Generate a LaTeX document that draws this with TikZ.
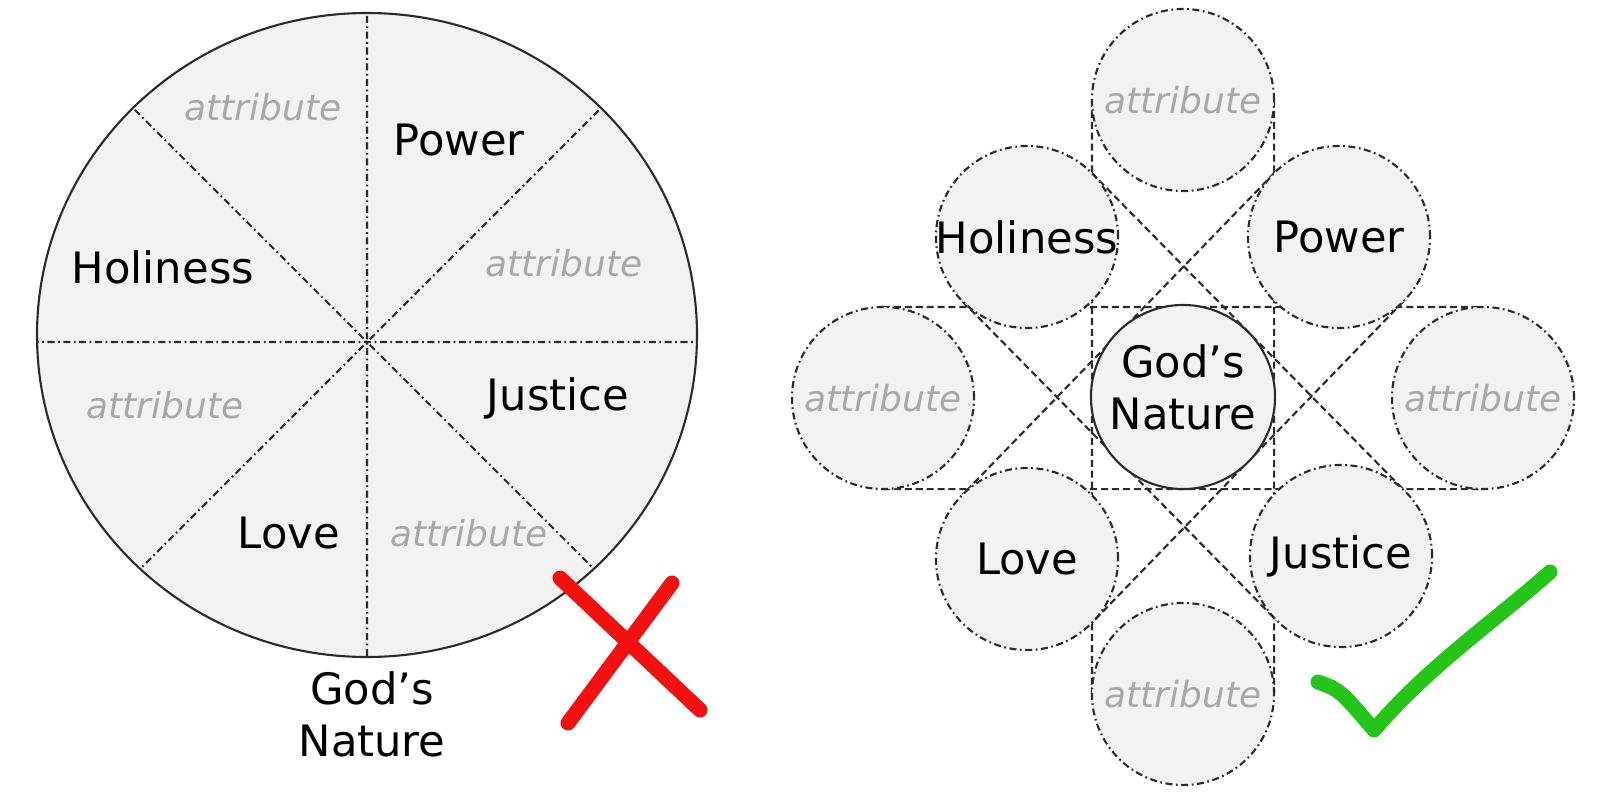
\documentclass[tikz,border=0pt]{standalone}
\usepackage{fontspec}
\setmainfont{DejaVu Sans}
\usetikzlibrary{backgrounds}
\definecolor{piefill}{HTML}{F2F2F2}
\definecolor{rimgray}{HTML}{2B2B2B}
\definecolor{attrgray}{HTML}{A8A8A8}
\definecolor{crossred}{HTML}{F21010}
\definecolor{tickgreen}{HTML}{24C418}
\begin{document}
\begin{tikzpicture}[x=0.01cm,y=-0.01cm,
        every node/.style={inner sep=0pt,outer sep=0pt,font=\fontsize{12.3}{14.8}\selectfont},
        attr/.style={text=attrgray,font=\fontsize{10.2}{12}\selectfont\itshape},
        spoke/.style={draw=rimgray,line width=0.6pt,dash pattern=on 2pt off 1pt on 0.5pt off 1pt},
        ball/.style={circle,minimum size=1.82cm,fill=piefill,spoke},
        core/.style={circle,minimum size=1.84cm,fill=piefill,draw=rimgray,line width=0.6pt},
        guide/.style={draw=rimgray,line width=0.6pt,dash pattern=on 2pt off 1.1pt},
        stroke/.style={line width=0.15cm,line cap=round,line join=round}]
    \useasboundingbox (0,0) rectangle (1600,800);
    \fill[piefill] (367,335) circle [x radius=330,y radius=322];
    \begin{scope}
        \clip (367,335) circle [x radius=330,y radius=322];
        \draw[spoke] (0,342) -- (750,342) (367,0) -- (367,700)
            (-33,-58) -- (767,742) (-33,742) -- (767,-58);
    \end{scope}
    \draw[rimgray,line width=0.6pt] (367,335) circle [x radius=330,y radius=322];
    \node[attr] (pattr1) at (263,107) {attribute};
    \node (ppow) at (459,140) {Power};
    \node (phol) at (163,267) {Holiness};
    \node[attr] (pattr2) at (564,263) {attribute};
    \node[attr] (pattr3) at (165,405) {attribute};
    \node (pjus) at (558,398) {Justice};
    \node (plov) at (289,533) {Love};
    \node[attr] (pattr4) at (469,533) {attribute};
    \node[align=center] (pname) at (372,714) {God’s\\Nature};
    \draw[stroke,crossred] (560,578) -- (700,710) (672,583) -- (568,723);

    \node[core] (gn) at (1183,397) {};
    \node[align=center] (gntxt) at (1183,387) {God’s\\Nature};
    \node[ball,label={[attr]center:attribute}] (atop) at (1183,100) {};
    \node[ball,label={center:Holiness}] (hol) at (1027,237) {};
    \node[ball,label={center:Power}] (pow) at (1339,237) {};
    \node[ball,label={[attr]center:attribute}] (aleft) at (883,398) {};
    \node[ball,label={[attr]center:attribute}] (aright) at (1483,398) {};
    \node[ball,label={center:Love}] (lov) at (1027,559) {};
    \node[ball,label={center:Justice}] (jus) at (1341,556) {};
    \node[ball,label={[attr]center:attribute}] (abot) at (1183,694) {};
    \begin{scope}[on background layer]
        \draw[guide] (aleft.north) -- (aright.north) (aleft.south) -- (aright.south)
            (atop.west) -- (abot.west) (atop.east) -- (abot.east)
            (hol.45) -- (jus.45) (hol.225) -- (jus.225)
            (pow.135) -- (lov.135) (pow.-45) -- (lov.-45);
    \end{scope}
    \draw[stroke,tickgreen] (1318,682) .. controls (1340,690) .. (1374,730)
        .. controls (1430,665) and (1490,625) .. (1550,572);
\end{tikzpicture}
\end{document}
